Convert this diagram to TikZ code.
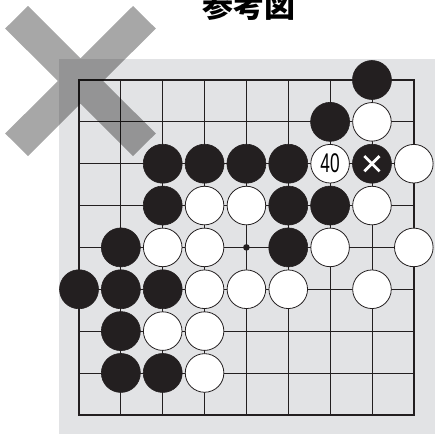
\documentclass[tikz,border=0pt]{standalone}
\usepackage{fontspec}
\usepackage{graphicx}
\setmainfont{Liberation Sans}
\newfontfamily\cjk{Noto Sans CJK JP}
\definecolor{bggray}{HTML}{E2E3E5}
\definecolor{ink}{HTML}{231F20}
\begin{document}
\begin{tikzpicture}[x=1pt,y=-1pt,
  blackstone/.style={circle, fill=ink, draw=ink, line width=0.6pt, minimum size=39pt, inner sep=0pt},
  whitestone/.style={circle, fill=white, draw=ink, line width=0.8pt, minimum size=38.6pt, inner sep=0pt},
  gridline/.style={draw=ink, line width=0.9pt},
  boardedge/.style={draw=ink, line width=2.2pt, line join=miter},
  starpoint/.style={circle, fill=ink, minimum size=6.6pt, inner sep=0pt},
  crossmark/.style={fill=black, fill opacity=0.345},
  movemark/.style={draw=white, line width=2.8pt},
]
\useasboundingbox (0,0) rectangle (435,434);
\fill[bggray] (59,59) rectangle (435,434);
\node[font=\cjk\bfseries\fontsize{31}{31}\selectfont, anchor=base, inner sep=0pt] (title) at (249,17) {参考図};
\begin{scope}[shift={(79,80)}, x=41.85pt, y=-41.85pt]
  \foreach \i in {1,...,7} {
    \draw[gridline] (\i,0) -- (\i,8);
    \draw[gridline] (0,\i) -- (8,\i);
  }
  \draw[boardedge] (0,0) rectangle (8,8);
  \node[starpoint] (star) at (4,4) {};
  % black stones
  \foreach \c/\r [count=\k] in {7/0, 6/1, 2/2, 3/2, 4/2, 5/2, 2/3, 5/3, 6/3, 1/4, 5/4, 0/5, 1/5, 2/5, 1/6, 1/7, 2/7}
    \node[blackstone] (b\k) at (\c,\r) {};
  % white stones
  \foreach \c/\r [count=\k] in {7/1, 8/2, 3/3, 4/3, 7/3, 2/4, 3/4, 6/4, 8/4, 3/5, 4/5, 5/5, 7/5, 2/6, 3/6, 3/7}
    \node[whitestone] (w\k) at (\c,\r) {};
  \node[whitestone, font=\fontsize{27}{27}\selectfont] (w40) at (6,2) {\raisebox{0.8pt}{\scalebox{0.64}[1]{40}}};
  \node[blackstone] (bx) at (7,2) {};
  \draw[movemark] ([shift={(-7.6pt,-7.6pt)}]bx.center) -- ([shift={(7.6pt,7.6pt)}]bx.center);
  \draw[movemark] ([shift={(-7.6pt,7.6pt)}]bx.center) -- ([shift={(7.6pt,-7.6pt)}]bx.center);
\end{scope}
\fill[crossmark] (5.2,28.5) -- (28,6) -- (155.8,133.5) -- (133,156) -- cycle
                 (133,6) -- (155.8,28.5) -- (28,156) -- (5.2,133.5) -- cycle;
\end{tikzpicture}
\end{document}
